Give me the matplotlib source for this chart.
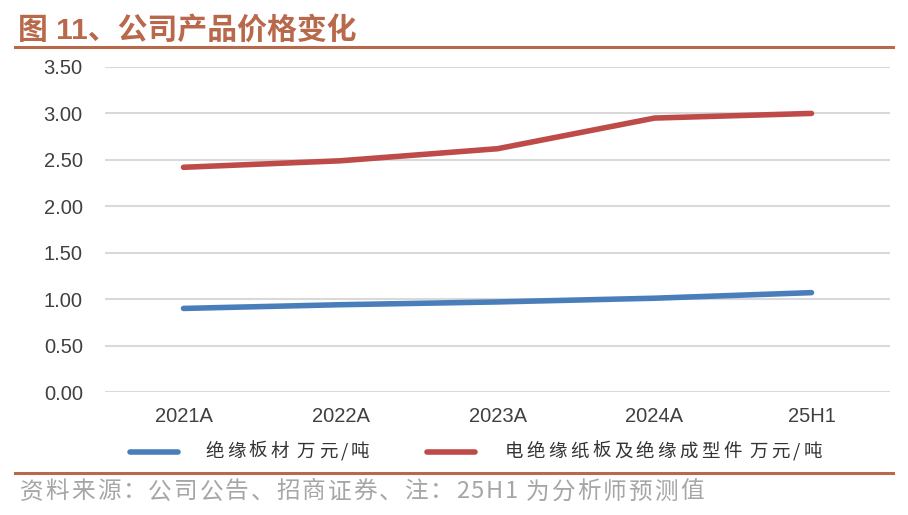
import matplotlib
matplotlib.use('Agg')
import matplotlib.pyplot as plt
from matplotlib.lines import Line2D

plt.rcParams['font.family'] = ['Liberation Sans', 'Noto Sans CJK SC', 'DejaVu Sans']

categories = ['2021A', '2022A', '2023A', '2024A', '25H1']
board = [0.90, 0.94, 0.97, 1.01, 1.07]
paper = [2.42, 2.49, 2.62, 2.95, 3.00]
label_board = '绝缘板材 万元/吨'
label_paper = '电绝缘纸板及绝缘成型件 万元/吨'
title = '图 11、公司产品价格变化'
source = '资料来源：公司公告、招商证券、注：25H1 为分析师预测值'

accent = '#B8694C'
blue = '#4A7EBB'
red = '#BE4B48'

fig = plt.figure(figsize=(9.08, 5.15), dpi=100)
W, H = 908, 515
renderer = fig.canvas.get_renderer()


def spaced_text(x0, y, s, track, **kw):
    # draw a string char by char with extra letter spacing (px)
    x = x0
    for ch in s:
        if ch == ' ':
            x += kw.get('fontsize', 12) * 0.35
            continue
        t = fig.text(x / W, y, ch, ha='left', **kw)
        x += t.get_window_extent(renderer).width + track


ax = fig.add_axes([105 / W, 1 - 392 / H, (890 - 105) / W, (392 - 67) / H])

x = list(range(len(categories)))
ax.plot(x, board, color=blue, lw=4, solid_capstyle='round')
ax.plot(x, paper, color=red, lw=4, solid_capstyle='round')

ax.set_xlim(-0.5, len(categories) - 0.5)
ax.set_ylim(0, 3.5)
ax.set_yticks([i * 0.5 for i in range(8)])
ax.set_yticklabels([f'{i * 0.5:.2f}' for i in range(8)])
ax.set_xticks(x)
ax.set_xticklabels(categories)
ax.grid(axis='y', color='#D9D9D9', lw=1.5)
ax.set_axisbelow(True)
for s in ax.spines.values():
    s.set_visible(False)
ax.tick_params(length=0, labelsize=14.5, colors='#404040', pad=16)
ax.tick_params(axis='x', pad=11)

# title and rules
fig.text(18 / W, 1 - 30 / H, title, fontsize=21.5, fontweight='bold', color=accent,
         va='center', ha='left', family=['Liberation Sans', 'Noto Sans CJK SC'])
fig.add_artist(Line2D([15 / W, 893 / W], [1 - 47 / H, 1 - 47 / H], color=accent, lw=2.2))
fig.add_artist(Line2D([15 / W, 893 / W], [1 - 473 / H, 1 - 473 / H], color=accent, lw=2.2))

# legend
ly = 1 - 452 / H
cjk = ['Noto Sans CJK SC', 'DejaVu Sans']
fig.add_artist(Line2D([130 / W, 178 / W], [ly, ly], color=blue, lw=4, solid_capstyle='round'))
spaced_text(205, ly, label_board, 3.3, fontsize=13.3, va='center', color='#333333', family=cjk)
fig.add_artist(Line2D([427 / W, 475 / W], [ly, ly], color=red, lw=4, solid_capstyle='round'))
spaced_text(505, ly, label_paper, 3.3, fontsize=13.3, va='center', color='#333333', family=cjk)

# source
spaced_text(20, 1 - 492 / H, source, 2.0, fontsize=17, va='center', color='#A6A6A6', family=cjk)

fig.savefig('out.png', dpi=100)
